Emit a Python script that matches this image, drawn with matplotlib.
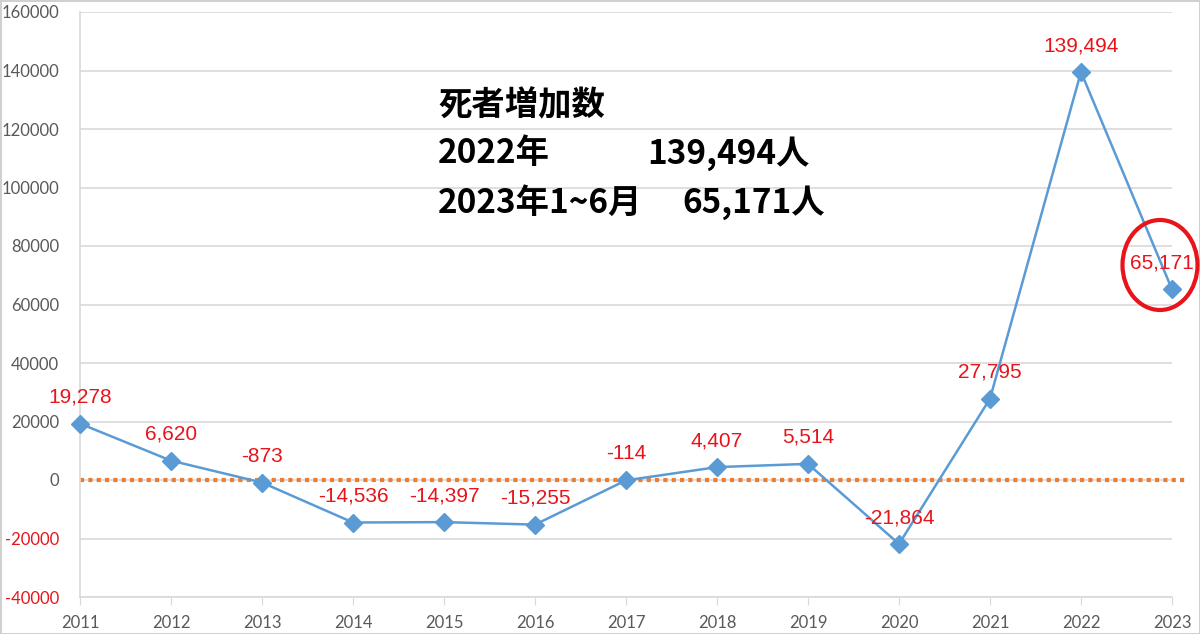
import matplotlib.pyplot as plt
from matplotlib.patches import Ellipse

years = [2011, 2012, 2013, 2014, 2015, 2016, 2017, 2018, 2019, 2020, 2021, 2022, 2023]
increase = [19278, 6620, -873, -14536, -14397, -15255, -114, 4407, 5514, -21864, 27795, 139494, 65171]
yticks = [-40000, -20000, 0, 20000, 40000, 60000, 80000, 100000, 120000, 140000, 160000]

title_lines = ["死者増加数", "2022年", "2023年1~6月"]
title_values = ["139,494人", "65,171人"]

blue = "#5B9BD5"
red = "#E8141B"
grey = "#595959"
grid_c = "#D9D9D9"

fig = plt.figure(figsize=(12, 6.34), dpi=100)
fig.patch.set_edgecolor("#D0D0D0")
fig.patch.set_linewidth(2)
ax = fig.add_axes([80/1200, 37/634, 1092/1200, 585/634])

ax.plot(years, increase, color=blue, lw=1.8, marker="D", markersize=9, zorder=3, clip_on=False)
ax.axhline(0, xmin=0, xmax=1.012, color="#ED7D31", lw=3, linestyle=(0, (1, 1)),
           clip_on=False, zorder=2)

for yr, v in zip(years, increase):
    dx = -7 if yr == 2023 else 0
    ax.annotate(f"{v:,}", (yr, v), xytext=(dx, 19), textcoords="offset points",
                ha="center", va="center", color=red, fontsize=15,
                family="Liberation Sans", zorder=4)

# circle around the latest value
circ = Ellipse((1160/1200, (634-265)/634), 75/1200, 90/634, transform=fig.transFigure,
               fill=False, edgecolor=red, lw=3, zorder=5)
fig.patches.append(circ)

ax.set_xlim(2011, 2023)
ax.set_ylim(-40000, 160000)
ax.set_xticks(years)
ax.set_yticks(yticks)
ax.set_xticklabels([str(y) for y in years], family="Lato", fontsize=12, color=grey)
ax.set_yticklabels([str(t) for t in yticks], family="Lato", fontsize=12)
for lab, t in zip(ax.get_yticklabels(), yticks):
    lab.set_color(red if t < 0 else grey)

ax.grid(axis="y", color=grid_c, lw=1.2)
ax.set_axisbelow(True)
ax.tick_params(axis="y", length=0, pad=15)
ax.tick_params(axis="x", length=6, color=grid_c, pad=7)
for s in ["top", "right"]:
    ax.spines[s].set_visible(False)
ax.spines["left"].set_color(grid_c)
ax.spines["bottom"].set_color(grid_c)
ax.spines["left"].set_linewidth(1.2)
ax.spines["bottom"].set_linewidth(1.2)

fnt = dict(family=["Noto Sans CJK JP", "DejaVu Sans"], fontweight="bold", fontsize=24,
           va="center", ha="left", color="black")
fig.text(438/1200, 1 - 106/634, title_lines[0], **fnt)
fig.text(438/1200, 1 - 154/634, title_lines[1], **fnt)
fig.text(438/1200, 1 - 203/634, title_lines[2], **fnt)
fig.text(647/1200, 1 - 154/634, title_values[0], **fnt)
fig.text(682/1200, 1 - 203/634, title_values[1], **fnt)

fig.savefig("out.png", dpi=100)
